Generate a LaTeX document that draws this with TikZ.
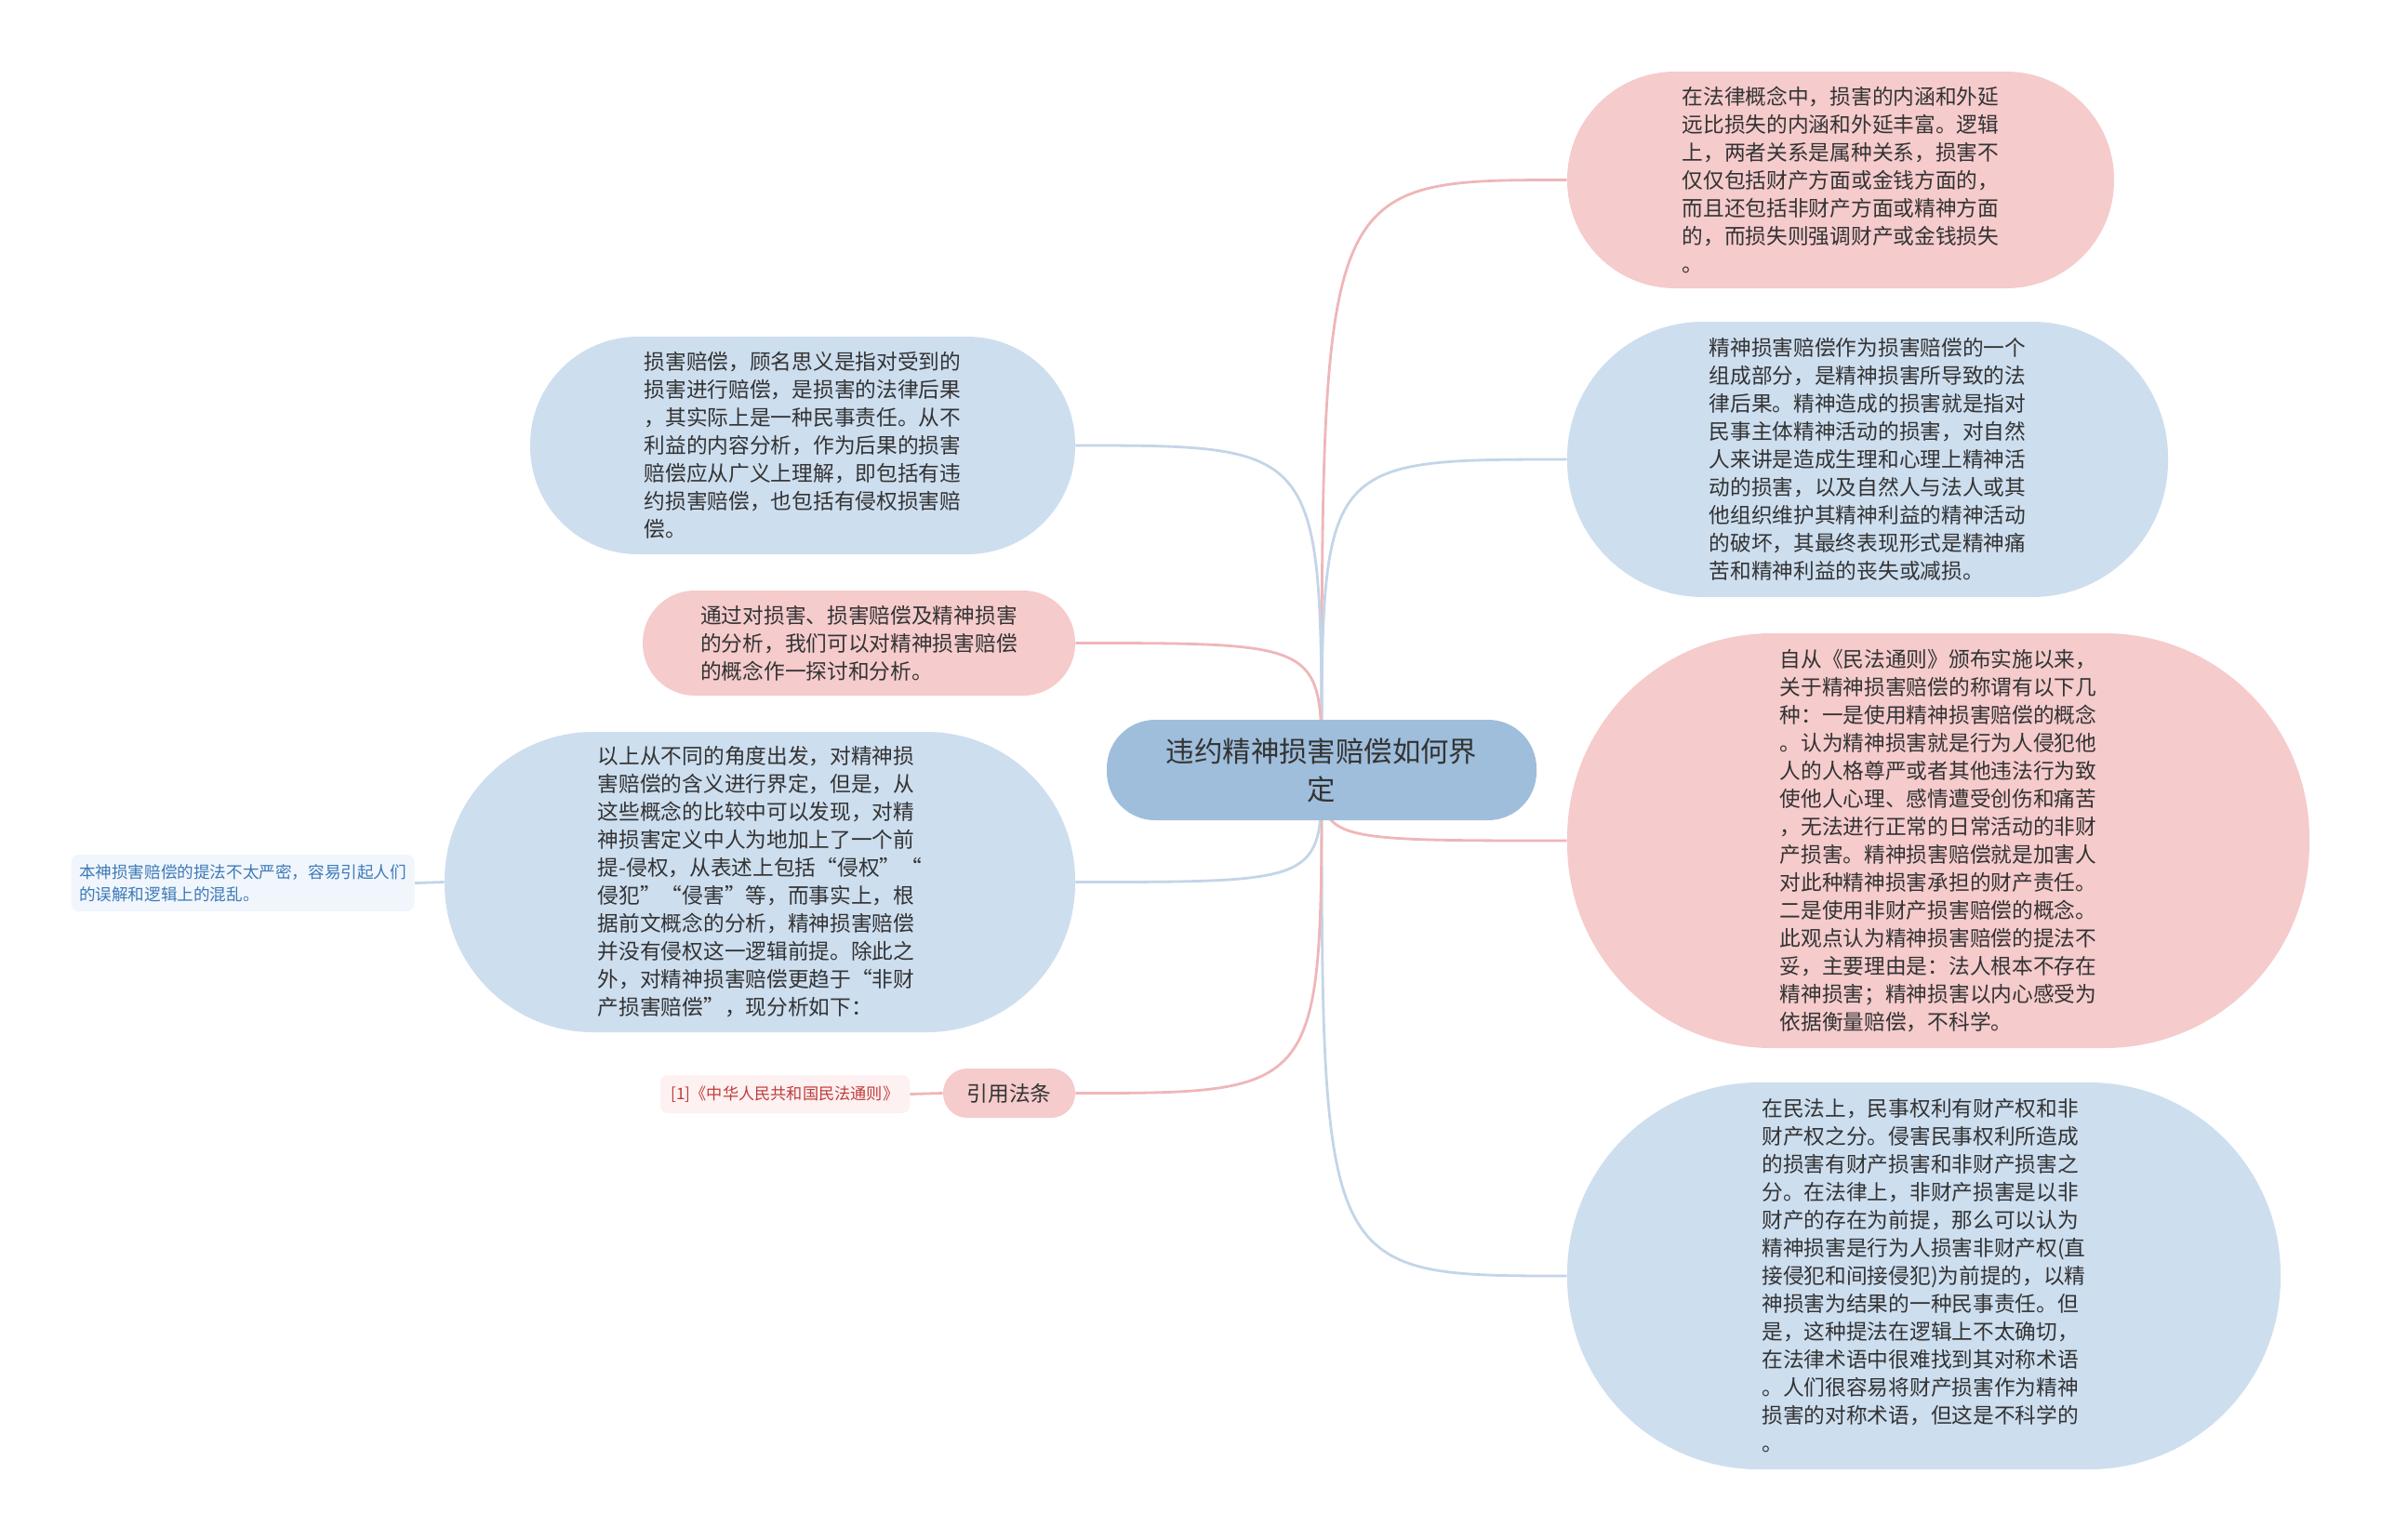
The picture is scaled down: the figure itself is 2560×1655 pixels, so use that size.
\documentclass[tikz,border=0pt]{standalone}
\usepackage{fontspec}
\setmainfont{Noto Sans CJK SC}
\usetikzlibrary{backgrounds}

\definecolor{rootblue}{HTML}{9FBEDB}
\definecolor{topicblue}{HTML}{CDDEEF}
\definecolor{topicpink}{HTML}{F5CBCC}
\definecolor{textgray}{HTML}{333333}
\definecolor{linkblue}{HTML}{C3D5E8}
\definecolor{linkpink}{HTML}{EFB6B8}
\definecolor{noteblue}{HTML}{F1F6FC}
\definecolor{notetext}{HTML}{3C7AB8}
\definecolor{refpink}{HTML}{FDF1F1}
\definecolor{reftext}{HTML}{C23B3B}

\tikzset{
    root/.style={fill=rootblue, text=textgray, inner sep=0pt, align=center,
        font=\fontsize{15.2}{20.5}\selectfont},
    bluetopic/.style={fill=topicblue, text=textgray, inner sep=0pt, align=left,
        font=\fontsize{11.35}{15}\selectfont},
    pinktopic/.style={fill=topicpink, text=textgray, inner sep=0pt, align=left,
        font=\fontsize{11.35}{15}\selectfont},
    bluenote/.style={fill=noteblue, text=notetext, inner sep=0pt, align=left,
        rounded corners=4pt, font=\fontsize{8.8}{12.2}\selectfont},
    refnote/.style={fill=refpink, text=reftext, inner sep=0pt, align=left,
        rounded corners=4pt, font=\fontsize{8.6}{12}\selectfont},
    bluelink/.style={draw=linkblue, line width=1.4pt},
    pinklink/.style={draw=linkpink, line width=1.4pt}
}

\begin{document}
\begin{tikzpicture}[x=0.5pt, y=-0.5pt]
    \useasboundingbox (0, 0) rectangle (2560, 1655);

    \node[root, minimum width=231pt, minimum height=54pt, rounded corners=26pt] (root) at (1421, 828)
        {违约精神损害赔偿如何界\\定};

    \node[pinktopic, minimum width=294pt, minimum height=116.5pt, rounded corners=58pt] (legal) at (1979, 193.5)
        {在法律概念中，损害的内涵和外延\\远比损失的内涵和外延丰富。逻辑\\上，两者关系是属种关系，损害不\\仅仅包括财产方面或金钱方面的，\\而且还包括非财产方面或精神方面\\的，而损失则强调财产或金钱损失\\。};

    \node[bluetopic, minimum width=323pt, minimum height=148pt, rounded corners=73pt] (mental) at (2008, 494)
        {精神损害赔偿作为损害赔偿的一个\\组成部分，是精神损害所导致的法\\律后果。精神造成的损害就是指对\\民事主体精神活动的损害，对自然\\人来讲是造成生理和心理上精神活\\动的损害，以及自然人与法人或其\\他组织维护其精神利益的精神活动\\的破坏，其最终表现形式是精神痛\\苦和精神利益的丧失或减损。};

    \node[pinktopic, minimum width=399pt, minimum height=223pt, rounded corners=110pt] (naming) at (2084, 904)
        {自从《民法通则》颁布实施以来，\\关于精神损害赔偿的称谓有以下几\\种：一是使用精神损害赔偿的概念\\。认为精神损害就是行为人侵犯他\\人的人格尊严或者其他违法行为致\\使他人心理、感情遭受创伤和痛苦\\，无法进行正常的日常活动的非财\\产损害。精神损害赔偿就是加害人\\对此种精神损害承担的财产责任。\\二是使用非财产损害赔偿的概念。\\此观点认为精神损害赔偿的提法不\\妥，主要理由是：法人根本不存在\\精神损害；精神损害以内心感受为\\依据衡量赔偿，不科学。};

    \node[bluetopic, minimum width=383.5pt, minimum height=208pt, rounded corners=103pt] (civil) at (2068.5, 1372)
        {在民法上，民事权利有财产权和非\\财产权之分。侵害民事权利所造成\\的损害有财产损害和非财产损害之\\分。在法律上，非财产损害是以非\\财产的存在为前提，那么可以认为\\精神损害是行为人损害非财产权(直\\接侵犯和间接侵犯)为前提的，以精\\神损害为结果的一种民事责任。但\\是，这种提法在逻辑上不太确切，\\在法律术语中很难找到其对称术语\\。人们很容易将财产损害作为精神\\损害的对称术语，但这是不科学的\\。};

    \node[bluetopic, minimum width=293pt, minimum height=117pt, rounded corners=58pt] (damages) at (863, 479)
        {损害赔偿，顾名思义是指对受到的\\损害进行赔偿，是损害的法律后果\\，其实际上是一种民事责任。从不\\利益的内容分析，作为后果的损害\\赔偿应从广义上理解，即包括有违\\约损害赔偿，也包括有侵权损害赔\\偿。};

    \node[pinktopic, minimum width=232.5pt, minimum height=56.5pt, rounded corners=28pt] (analysis) at (923.5, 691.5)
        {通过对损害、损害赔偿及精神损害\\的分析，我们可以对精神损害赔偿\\的概念作一探讨和分析。};

    \node[bluetopic, minimum width=339pt, minimum height=161.5pt, rounded corners=80pt] (premise) at (817, 948.5)
        {以上从不同的角度出发，对精神损\\害赔偿的含义进行界定，但是，从\\这些概念的比较中可以发现，对精\\神损害定义中人为地加上了一个前\\提-侵权，从表述上包括“侵权”“\\侵犯”“侵害”等，而事实上，根\\据前文概念的分析，精神损害赔偿\\并没有侵权这一逻辑前提。除此之\\外，对精神损害赔偿更趋于“非财\\产损害赔偿”，现分析如下：};

    \node[pinktopic, align=center, minimum width=71pt, minimum height=26.5pt, rounded corners=13pt] (cite) at (1085, 1175.5)
        {引用法条};

    \node[bluenote, minimum width=184.5pt, minimum height=30.5pt] (premisenote) at (261, 949.5)
        {本神损害赔偿的提法不太严密，容易引起人们\\的误解和逻辑上的混乱。};

    \node[refnote, minimum width=134pt, minimum height=20.5pt] (citenote) at (844, 1176.5)
        {[1]《中华人民共和国民法通则》};

    \begin{scope}[on background layer]
        \draw[pinklink] (root.center) .. controls (root.center |- legal.west) .. (legal.west);
        \draw[bluelink] (root.center) .. controls (root.center |- mental.west) .. (mental.west);
        \draw[pinklink] (root.center) .. controls (root.center |- naming.west) .. (naming.west);
        \draw[bluelink] (root.center) .. controls (root.center |- civil.west) .. (civil.west);

        \draw[bluelink] (root.center) .. controls (root.center |- damages.east) .. (damages.east);
        \draw[pinklink] (root.center) .. controls (root.center |- analysis.east) .. (analysis.east);
        \draw[bluelink] (root.center) .. controls (root.center |- premise.east) .. (premise.east);
        \draw[pinklink] (root.center) .. controls (root.center |- cite.east) .. (cite.east);

        \draw[bluelink] (premise.west) -- (premisenote.east);
        \draw[pinklink] (cite.west) -- (citenote.east);
    \end{scope}
\end{tikzpicture}
\end{document}
